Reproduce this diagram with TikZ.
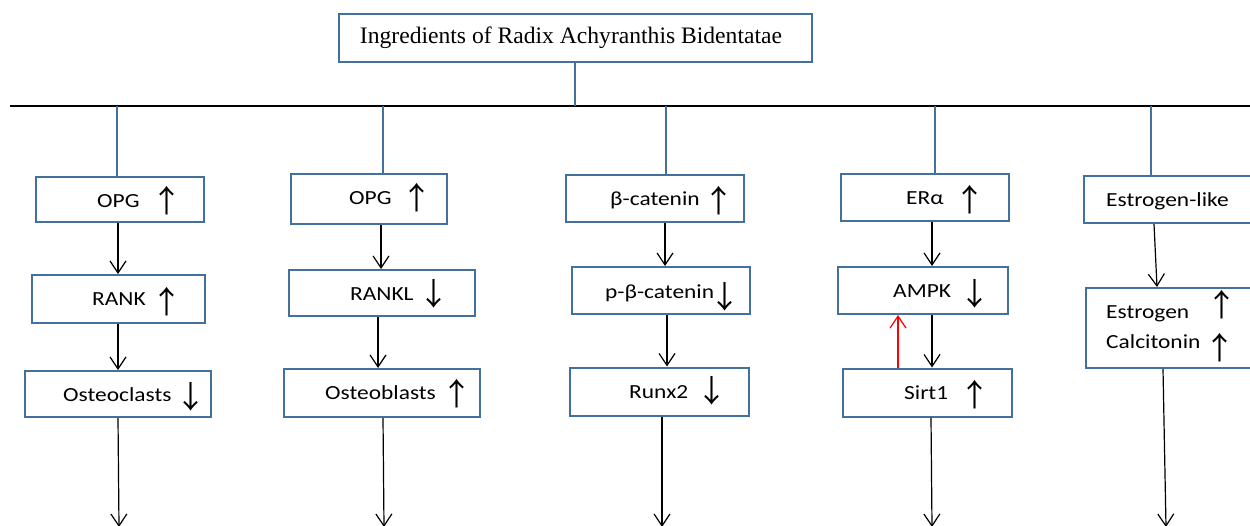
\documentclass[tikz,border=0pt]{standalone}
\usepackage{fontspec}
\usetikzlibrary{arrows.meta}
\setmainfont{Liberation Serif}
\newfontfamily\lab[FakeStretch=1.17]{Carlito}
\newfontfamily\arr{Noto Sans CJK SC}
\definecolor{boxblue}{HTML}{41719C}
\begin{document}
\begin{tikzpicture}[x=1pt,y=-1pt,
  box/.style={draw=boxblue,line width=2pt,inner sep=0pt,fill=white},
  conn/.style={draw=black,line width=1.2pt,-{Straight Barb[length=12pt,width=16pt,line width=1.2pt]}},
  redconn/.style={draw=red,line width=1.2pt,-{Straight Barb[length=12pt,width=16pt,line width=1.2pt]}},
  feed/.style={draw=boxblue,line width=2pt},
  hline/.style={draw=black,line width=1.4pt},
  lbl/.style={font=\lab\fontsize{20}{24}\selectfont,inner sep=0pt,anchor=west,text height=13pt,text depth=0pt},
  ud/.style={font=\arr\fontsize{31}{33}\selectfont,inner sep=0pt}]
\useasboundingbox (0,0) rectangle (1250,525);
\clip (0,0) rectangle (1250,525);
% title
\node[box,minimum width=473pt,minimum height=48pt,font=\fontsize{23.6}{27}\selectfont] (title) at (575,38) {\hspace*{-8pt}Ingredients of Radix Achyranthis Bidentatae};
\coordinate (hlL) at (10,106);
\coordinate (hlR) at (1252,106);
\draw[hline] (hlL) -- (hlR);
\draw[feed] (title.south) -- (title.south |- hlL);
\coordinate (d1) at (117,106);
\coordinate (d2) at (383,106);
\coordinate (d3) at (666,106);
\coordinate (d4) at (935,106);
\coordinate (d5) at (1151,106);
% column 1
\node[box,minimum width=168pt,minimum height=45pt] (opg1) at (120,199.5) {};
\node[box,minimum width=173pt,minimum height=48pt] (rank1) at (118.5,299) {};
\node[box,minimum width=186pt,minimum height=46pt] (ocl) at (118,394) {};
\node[lbl] (t11) at (97,200.5) {OPG};
\node[ud] (u11) at (167,201) {↑};
\node[lbl] (t12) at (92,299.3) {RANK};
\node[ud] (u12) at (167,302) {↑};
\node[lbl] (t13) at (63,394.5) {Osteoclasts};
\node[ud] (u13) at (191,397) {↓};
% column 2
\node[box,minimum width=156pt,minimum height=50pt] (opg2) at (369,199) {};
\node[box,minimum width=186pt,minimum height=46pt] (rankl2) at (382,293) {};
\node[box,minimum width=196pt,minimum height=48pt] (obl) at (382,393) {};
\node[lbl] (t21) at (349,198) {OPG};
\node[ud] (u21) at (417,198) {↑};
\node[lbl] (t22) at (350,293.5) {RANKL};
\node[ud] (u22) at (434,294) {↓};
\node[lbl] (t23) at (325,393) {Osteoblasts};
\node[ud] (u23) at (457,394) {↑};
% column 3
\node[box,minimum width=178pt,minimum height=47pt] (bcat) at (655,198.5) {};
\node[box,minimum width=178pt,minimum height=47pt] (pbcat) at (661,290.5) {};
\node[box,minimum width=179pt,minimum height=48pt] (runx) at (659.5,391.5) {};
\node[lbl] (t31) at (610,199) {β-catenin};
\node[ud] (u31) at (719,201) {↑};
\node[lbl] (t32) at (605,292) {p-β-catenin};
\node[ud] (u32) at (725,297) {↓};
\node[lbl] (t33) at (629,391.7) {Runx2};
\node[ud] (u33) at (712,391) {↓};
% column 4
\node[box,minimum width=168pt,minimum height=47pt] (era) at (924.5,197.5) {};
\node[box,minimum width=170pt,minimum height=47pt] (ampk) at (923,290.5) {};
\node[box,minimum width=169pt,minimum height=48pt] (sirt) at (927,392.5) {};
\node[lbl] (t41) at (906,198) {ERα};
\node[ud] (u41) at (970,200) {↑};
\node[lbl] (t42) at (893,290.7) {AMPK};
\node[ud] (u42) at (975,294) {↓};
\node[lbl] (t43) at (904,393) {Sirt1};
\node[ud] (u43) at (975,395) {↑};
% column 5
\node[box,minimum width=176pt,minimum height=47pt] (estl) at (1172,199.5) {};
\node[box,minimum width=176pt,minimum height=80pt] (estc) at (1174,328) {};
\node[lbl] (t51) at (1106,200) {Estrogen-like};
\node[lbl] (t52) at (1106,311.7) {Estrogen};
\node[ud] (u52) at (1222,305) {↑};
\node[lbl] (t53) at (1106,341.7) {Calcitonin};
\node[ud] (u53) at (1220,348) {↑};
% feed lines
\draw[feed] (d1) -- (d1 |- opg1.north);
\draw[feed] (d2) -- (d2 |- opg2.north);
\draw[feed] (d3) -- (d3 |- bcat.north);
\draw[feed] (d4) -- (d4 |- era.north);
\draw[feed] (d5) -- (d5 |- estl.north);
% connectors
\draw[conn] (opg1.south -| 118,0) -- (rank1.north -| 118,0);
\draw[conn] (rank1.south -| 118,0) -- (ocl.north -| 118,0);
\draw[conn] (opg2.south -| 381,0) -- (rankl2.north -| 381,0);
\draw[conn] (rankl2.south -| 378,0) -- (obl.north -| 378,0);
\draw[conn] (bcat.south -| 665,0) -- (pbcat.north -| 665,0);
\draw[conn] (pbcat.south -| 667,0) -- (runx.north -| 667,0);
\draw[conn] (era.south -| 932,0) -- (ampk.north -| 932,0);
\draw[conn] (ampk.south -| 932,0) -- (sirt.north -| 932,0);
\draw[redconn] (sirt.north -| 898,0) -- (ampk.south -| 898,0);
\draw[conn] (estl.south -| 1154,0) -- (estc.north -| 1157,0);
% bottom arrows
\coordinate (e1) at (119,527);
\coordinate (e2) at (384,527);
\coordinate (e3) at (662,527);
\coordinate (e4) at (932,527);
\coordinate (e5) at (1166,527);
\draw[conn] (ocl.south -| 118,0) -- (e1);
\draw[conn] (obl.south -| 383,0) -- (e2);
\draw[conn] (runx.south -| 662,0) -- (e3);
\draw[conn] (sirt.south -| 931,0) -- (e4);
\draw[conn] (estc.south -| 1163,0) -- (e5);
\end{tikzpicture}
\end{document}
